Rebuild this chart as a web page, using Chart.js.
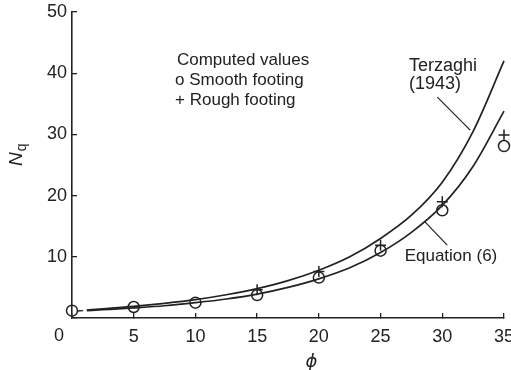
<!DOCTYPE html>
<html><head><meta charset="utf-8">
<script src="https://cdn.jsdelivr.net/npm/chart.js@4/dist/chart.umd.min.js"></script>
<style>html,body{margin:0;padding:0;background:#fff;} canvas{display:block;}</style>
</head><body>
<canvas id="c" width="511" height="370"></canvas>
<script>
// ---- data ----
const xTicks = [0, 5, 10, 15, 20, 25, 30, 35];
const yTicks = [0, 10, 20, 30, 40, 50];
const curvePhi    = [1.2, 2.5, 5, 7.5, 10, 12.5, 15, 17.5, 20, 22.5, 25, 27.5, 30, 32.5, 35];
const terzaghiNq  = [1.3, 1.5, 1.9, 2.4, 3.0, 3.8, 4.8, 6.1, 7.8, 10.0, 13.0, 16.8, 22.2, 30.5, 42.0];
const equation6Nq = [1.2, 1.35, 1.65, 2.0, 2.5, 3.1, 3.9, 5.0, 6.4, 8.2, 10.7, 14.0, 18.4, 24.8, 33.8];
const leadPhi = [0.4, 0.9];
const leadNq  = [1.15, 1.2];
const smoothPhi = [0, 5, 10, 15, 20, 25, 30, 35];
const smoothNq  = [1.2, 1.8, 2.5, 3.75, 6.6, 11.0, 17.6, 28.1];
const roughPhi  = [15, 20, 25, 30, 35];
const roughNq   = [4.6, 7.6, 11.9, 19.0, 29.9];

const ink = '#222';
const FF = '"Liberation Sans", Arial, Helvetica, sans-serif';

const pts = (xs, ys) => xs.map((x, i) => ({x, y: ys[i]}));

// annotation texts anchored in data units
const notes = [
  {t: 'Computed values',   x: 8.5,  y: 42.1, s: 17},
  {t: 'o Smooth footing',  x: 8.35, y: 38.8, s: 17},
  {t: '+ Rough footing',   x: 8.35, y: 35.5, s: 17},
  {t: 'Terzaghi',          x: 27.3, y: 41.2, s: 18},
  {t: '(1943)',            x: 27.3, y: 38.3, s: 18},
  {t: 'Equation (6)',      x: 26.95, y: 10.0, s: 17}
];
const leaders = [
  {x1: 29.6, y1: 36.1, x2: 32.26, y2: 30.7},
  {x1: 30.4, y1: 11.9, x2: 28.56, y2: 15.8}
];

const decor = {
  id: 'decor',
  afterDraw(chart) {
    const ctx = chart.ctx, xs = chart.scales.x, ys = chart.scales.y;
    ctx.save();
    ctx.fillStyle = ink; ctx.strokeStyle = ink;
    ctx.textAlign = 'left'; ctx.textBaseline = 'middle';
    notes.forEach(n => {
      ctx.font = n.s + 'px ' + FF;
      ctx.fillText(n.t, xs.getPixelForValue(n.x), ys.getPixelForValue(n.y));
    });
    ctx.lineWidth = 1.2;
    leaders.forEach(l => {
      ctx.beginPath();
      ctx.moveTo(xs.getPixelForValue(l.x1), ys.getPixelForValue(l.y1));
      ctx.lineTo(xs.getPixelForValue(l.x2), ys.getPixelForValue(l.y2));
      ctx.stroke();
    });
    // origin label
    ctx.textAlign = 'center';
    ctx.font = '18px ' + FF;
    ctx.fillText('0', xs.getPixelForValue(0) - 13, ys.bottom + 18);
    // x title
    ctx.font = 'italic 18px "DejaVu Sans", sans-serif';
    ctx.fillText('\u03D5', xs.getPixelForValue(19.4), chart.height - 8);
    // y title N_q
    ctx.translate(22, 166);
    ctx.rotate(-Math.PI / 2);
    ctx.textAlign = 'left'; ctx.textBaseline = 'alphabetic';
    ctx.font = 'italic 19px ' + FF;
    ctx.fillText('N', 0, 0);
    const w = ctx.measureText('N').width;
    ctx.font = '14px ' + FF;
    ctx.fillText('q', w + 1, 4);
    ctx.restore();
  }
};

new Chart(document.getElementById('c'), {
  type: 'scatter',
  data: {
    datasets: [
      {label: 'Terzaghi (1943)', data: pts(curvePhi, terzaghiNq), showLine: true,
       borderColor: ink, borderWidth: 1.7, pointRadius: 0, cubicInterpolationMode: 'monotone', clip: false},
      {label: 'Equation (6)', data: pts(curvePhi, equation6Nq), showLine: true,
       borderColor: ink, borderWidth: 1.7, pointRadius: 0, cubicInterpolationMode: 'monotone', clip: false},
      {label: 'lead', data: pts(leadPhi, leadNq), showLine: true,
       borderColor: ink, borderWidth: 1.4, pointRadius: 0},
      {label: 'Smooth footing', data: pts(smoothPhi, smoothNq), showLine: false,
       pointStyle: 'circle', pointRadius: 5.5, borderColor: ink, borderWidth: 1.5,
       backgroundColor: 'rgba(255,255,255,0)', clip: false},
      {label: 'Rough footing', data: pts(roughPhi, roughNq), showLine: false,
       pointStyle: 'cross', pointRadius: 5.5, borderColor: ink, borderWidth: 1.5, clip: false}
    ]
  },
  options: {
    responsive: false,
    animation: false,
    events: [],
    layout: {padding: {left: 0, right: 4, top: 12, bottom: 0}},
    plugins: {legend: {display: false}, tooltip: {enabled: false}},
    scales: {
      x: {
        type: 'linear', min: 0, max: 35,
        afterBuildTicks: s => { s.ticks = xTicks.map(v => ({value: v})); },
        ticks: {callback: v => v === 0 ? '' : String(v), font: {family: FF, size: 18}, color: ink,
                padding: 13, maxRotation: 0, autoSkip: false},
        grid: {display: true, drawOnChartArea: false, drawTicks: true, tickLength: -5, color: ink, lineWidth: 1.3},
        border: {display: true, color: ink, width: 1.6},
        afterFit: s => { s.height = 52; s.paddingLeft = 0; s.paddingRight = 0; }
      },
      y: {
        type: 'linear', min: 0, max: 50,
        afterBuildTicks: s => { s.ticks = yTicks.map(v => ({value: v})); },
        ticks: {callback: v => v === 0 ? '' : String(v), font: {family: FF, size: 18}, color: ink,
                padding: 10, autoSkip: false},
        grid: {display: true, drawOnChartArea: false, drawTicks: true, tickLength: -5, color: ink, lineWidth: 1.3},
        border: {display: true, color: ink, width: 1.6},
        afterFit: s => { s.width = 72; s.paddingTop = 0; s.paddingBottom = 0; }
      }
    }
  },
  plugins: [decor]
});
</script>
</body></html>
